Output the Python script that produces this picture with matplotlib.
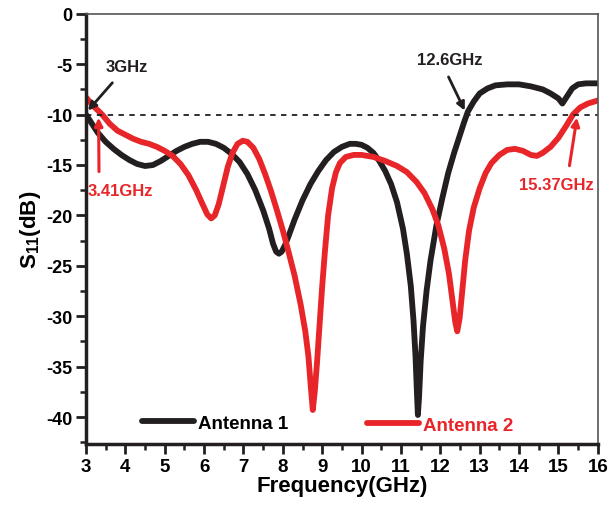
#S11 vs Frequency for two antennas

import numpy as np
import matplotlib
matplotlib.use('Agg')
import matplotlib.pyplot as plt
from matplotlib.ticker import MultipleLocator

plt.rcParams['font.family'] = ['Liberation Sans', 'DejaVu Sans']
plt.rcParams['font.weight'] = 'bold'
plt.rcParams['axes.unicode_minus'] = False
plt.rcParams['mathtext.fontset'] = 'custom'
plt.rcParams['mathtext.rm'] = 'Liberation Sans:bold'
plt.rcParams['mathtext.default'] = 'regular'

#Antenna 1
freq_ant1 = [3.0, 3.15, 3.3, 3.5, 3.7, 3.9, 4.1, 4.3, 4.5, 4.7, 4.9, 5.1, 5.3, 5.5, 5.7,
             5.9, 6.1, 6.3, 6.5, 6.7, 6.9, 7.1, 7.3, 7.5, 7.65, 7.75, 7.83, 7.9, 7.97,
             8.05, 8.15, 8.3, 8.5, 8.7, 8.9, 9.1, 9.3, 9.5, 9.7, 9.85, 10.0, 10.15,
             10.3, 10.45, 10.6, 10.75, 10.9, 11.05, 11.15, 11.25, 11.32, 11.37, 11.41,
             11.43, 11.46, 11.5, 11.56, 11.65, 11.75, 11.9, 12.05, 12.2, 12.35, 12.5,
             12.6, 12.7, 12.85, 13.0, 13.2, 13.4, 13.7, 14.0, 14.3, 14.6, 14.8, 15.0,
             15.1, 15.2, 15.35, 15.5, 15.7, 16.0]
s11_ant1 = [-10.0, -10.9, -11.8, -12.7, -13.4, -14.0, -14.5, -14.9, -15.1, -15.0, -14.6, -14.1, -13.6, -13.2, -12.9,
            -12.7, -12.7, -12.9, -13.3, -13.9, -14.7, -15.9, -17.5, -19.5, -21.3, -22.8, -23.6, -23.8, -23.6,
            -23.0, -22.0, -20.4, -18.5, -16.9, -15.6, -14.5, -13.7, -13.2, -12.9, -12.9, -13.0, -13.3,
            -13.8, -14.6, -15.6, -16.9, -18.7, -21.3, -23.8, -27.0, -30.5, -34.0, -38.0,
            -39.8, -38.0, -34.5, -31.0, -27.5, -24.5, -21.0, -18.3, -15.8, -13.8, -12.0,
            -10.8, -9.7, -8.7, -7.9, -7.4, -7.1, -7.0, -7.0, -7.2, -7.5, -7.9, -8.4,
            -8.9, -8.3, -7.4, -7.0, -6.9, -6.9]

#Antenna 2
freq_ant2 = [3.0, 3.2, 3.41, 3.6, 3.8, 4.0, 4.2, 4.4, 4.6, 4.8, 5.0, 5.2, 5.4, 5.6, 5.8,
             5.95, 6.08, 6.18, 6.27, 6.37, 6.47, 6.6, 6.72, 6.85, 6.98, 7.1, 7.25, 7.4,
             7.55, 7.7, 7.85, 8.0, 8.15, 8.3, 8.45, 8.57, 8.65, 8.71, 8.76, 8.81, 8.87,
             8.93, 9.0, 9.07, 9.15, 9.25, 9.35, 9.45, 9.6, 9.8, 10.0, 10.3, 10.6, 10.9,
             11.15, 11.4, 11.6, 11.8, 11.95, 12.1, 12.22, 12.32, 12.38, 12.43, 12.49,
             12.55, 12.63, 12.73, 12.85, 13.0, 13.15, 13.3, 13.5, 13.7, 13.9, 14.1, 14.3,
             14.45, 14.6, 14.8, 15.0, 15.2, 15.37, 15.55, 15.75, 16.0]
s11_ant2 = [-8.3, -9.2, -10.0, -10.9, -11.6, -12.0, -12.4, -12.7, -12.9, -13.2, -13.6, -14.1, -14.9, -16.0, -17.5,
            -18.8, -19.9, -20.3, -20.0, -18.9, -17.3, -15.2, -13.8, -12.9, -12.6, -12.7, -13.3, -14.4,
            -15.9, -17.6, -19.5, -21.5, -23.7, -26.0, -28.8, -31.5, -34.0, -37.0, -39.3, -37.5, -34.5,
            -31.0, -27.0, -23.5, -20.0, -17.3, -15.7, -14.8, -14.2, -14.0, -14.0, -14.2, -14.6, -15.1,
            -15.7, -16.7, -17.8, -19.4, -21.0, -23.3, -25.8, -28.8, -30.6, -31.5, -30.2,
            -27.8, -24.5, -21.5, -19.2, -17.3, -15.8, -14.8, -14.0, -13.5, -13.4, -13.6, -14.0,
            -14.1, -13.8, -13.2, -12.3, -11.1, -10.0, -9.3, -8.9, -8.6]

black = '#231f20'
red = '#e8262a'

fig = plt.figure(figsize=(6.1, 5.1), dpi=100)
ax = fig.add_axes([0.141, 0.127, 0.839, 0.844])

l1, = ax.plot(freq_ant1, s11_ant1, color=black, linewidth=4.2, solid_joinstyle='round', solid_capstyle='round')
l2, = ax.plot(freq_ant2, s11_ant2, color=red, linewidth=4.2, solid_joinstyle='round', solid_capstyle='round')
ax.axhline(-10, color=black, linestyle=(0, (3, 3)), linewidth=1.3)

ax.set_xlim(3, 16)
ax.set_ylim(-42.7, 0)
ax.xaxis.set_major_locator(MultipleLocator(1))
ax.xaxis.set_minor_locator(MultipleLocator(0.5))
ax.yaxis.set_major_locator(MultipleLocator(5))
ax.yaxis.set_minor_locator(MultipleLocator(2.5))
ax.tick_params(axis='both', which='major', direction='out', length=7, width=2, color=black)
ax.tick_params(axis='both', which='minor', direction='out', length=4, width=1.8, color=black)
ax.tick_params(axis='x', labelsize=13.5, pad=3)
ax.tick_params(axis='y', labelsize=13, pad=3)
for side in ['left', 'bottom']:
    ax.spines[side].set_linewidth(2.5)
    ax.spines[side].set_color(black)
for side in ['top', 'right']:
    ax.spines[side].set_linewidth(1.2)
    ax.spines[side].set_color('#555555')

ax.set_xlabel('Frequency(GHz)', fontsize=16, fontweight='bold', labelpad=0)
ax.set_ylabel('S$_{11}$(dB)', fontsize=16, fontweight='bold', labelpad=2)

#Annotations
ax.annotate('3GHz', xy=(3.05, -9.6), xytext=(3.5, -5.2), fontsize=12, fontweight='bold',
            color=black, va='center',
            arrowprops=dict(arrowstyle='-|>', color=black, lw=2, mutation_scale=12, shrinkA=6, shrinkB=0))
ax.annotate('3.41GHz', xy=(3.32, -10.3), xytext=(3.05, -17.5), fontsize=12, fontweight='bold',
            color=red, va='center',
            arrowprops=dict(arrowstyle='-|>', color=red, lw=2.2, mutation_scale=12, shrinkA=6, shrinkB=0,
                            relpos=(0.17, 0.5)))
ax.annotate('12.6GHz', xy=(12.62, -9.6), xytext=(12.24, -4.5), fontsize=12, fontweight='bold',
            color=black, ha='center', va='center',
            arrowprops=dict(arrowstyle='-|>', color=black, lw=2, mutation_scale=12, shrinkA=6, shrinkB=0,
                            relpos=(0.35, 0.5)))
ax.annotate('15.37GHz', xy=(15.47, -10.3), xytext=(14.96, -16.9), fontsize=12, fontweight='bold',
            color=red, ha='center', va='center',
            arrowprops=dict(arrowstyle='-|>', color=red, lw=2.2, mutation_scale=12, shrinkA=6, shrinkB=0,
                            relpos=(0.63, 0.5)))

#Two separate legend entries
leg1 = ax.legend(handles=[l1], labels=['Antenna 1'], loc='center left', bbox_to_anchor=(0.109, 0.049),
                 frameon=False, borderpad=0, borderaxespad=0, handlelength=2.8, handletextpad=0.2,
                 prop={'size': 13.5, 'weight': 'bold'})
ax.add_artist(leg1)
leg2 = ax.legend(handles=[l2], labels=['Antenna 2'], loc='center left', bbox_to_anchor=(0.549, 0.044),
                 frameon=False, borderpad=0, borderaxespad=0, handlelength=2.8, handletextpad=0.2,
                 prop={'size': 13.5, 'weight': 'bold'})
for t in leg2.get_texts():
    t.set_color(red)

fig.savefig('out.png', dpi=100)
